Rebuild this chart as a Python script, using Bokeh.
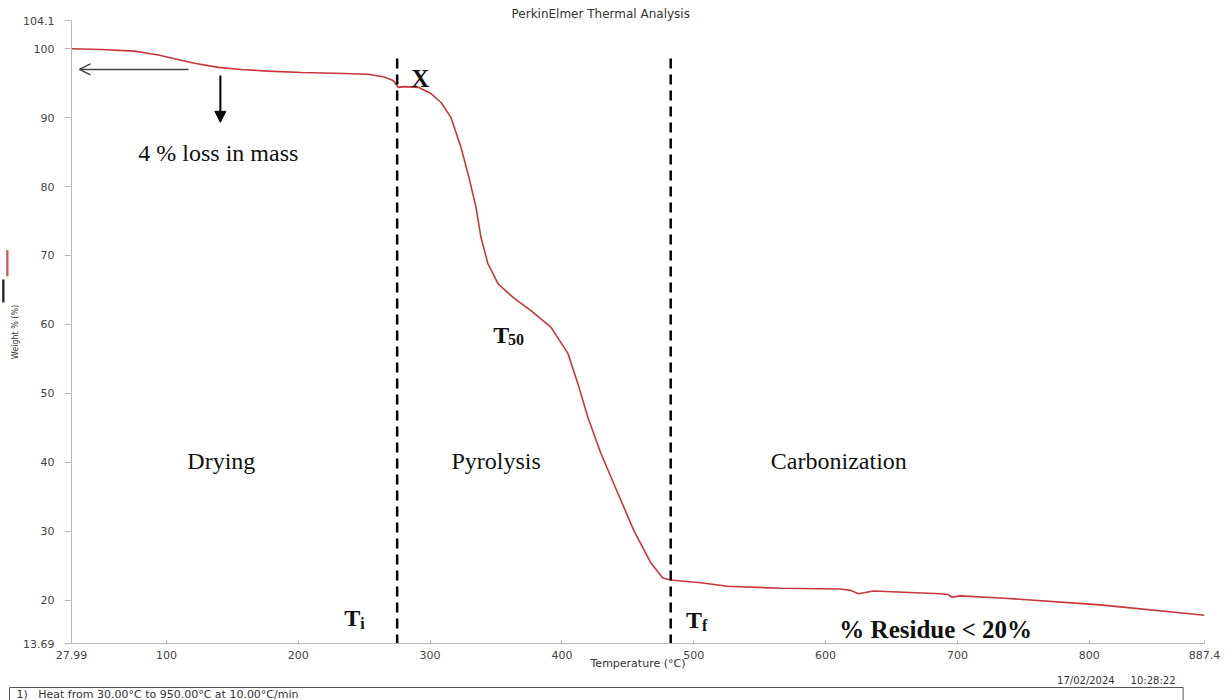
from bokeh.plotting import figure
from bokeh.models import (Label, Arrow, OpenHead, NormalHead, FixedTicker, Range1d, Title)
from bokeh.embed import file_html
from bokeh.resources import INLINE

# ---------------- data ----------------
temperature_c = [28.0, 50.7, 75.7, 93.9, 106.1, 121.2, 139.4, 156.8, 177.3, 202.3,
                 227.3, 253.1, 265.2, 272.0, 275.8, 280.4, 291.0, 300.7, 308.3, 315.9,
                 323.4, 329.5, 334.8, 338.6, 343.9, 351.5, 363.6, 376.5, 391.6, 404.5,
                 412.1, 419.7, 429.5, 442.4, 454.5, 467.4, 476.5, 482.5, 505.3, 525.7,
                 565.9, 611.3, 619.0, 625.0, 636.3, 687.0, 693.0, 696.0, 702.0, 732.5,
                 808.3, 887.4]
weight_pct = [100.0, 99.9, 99.65, 99.1, 98.55, 97.9, 97.3, 97.0, 96.75, 96.55,
              96.45, 96.3, 95.9, 95.4, 94.4, 94.5, 94.4, 93.5, 92.2, 90.0,
              85.7, 81.3, 77.0, 72.6, 68.8, 65.9, 63.8, 62.0, 59.6, 55.8,
              51.4, 46.5, 41.3, 35.5, 30.1, 25.4, 23.2, 22.9, 22.5, 22.0,
              21.7, 21.6, 21.4, 20.9, 21.3, 20.9, 20.8, 20.4, 20.6, 20.3,
              19.3, 17.8]
stage_bounds_c = [275.0, 482.5]          # Ti and Tf
stage_names = ["Drying", "Pyrolysis", "Carbonization"]

x_ticks = [27.99, 100, 200, 300, 400, 500, 600, 700, 800, 887.4]
x_tick_labels = ["27.99", "100", "200", "300", "400", "500", "600", "700", "800", "887.4"]
y_ticks = [13.69, 20, 30, 40, 50, 60, 70, 80, 90, 100, 104.1]
y_tick_labels = ["13.69", "20", "30", "40", "50", "60", "70", "80", "90", "100", "104.1"]

X_MIN, X_MAX = 27.99, 887.4
Y_MIN, Y_MAX = 13.69, 104.1

# ---------------- geometry (page pixels; the template has no body margin) ----
W, H = 1229, 700
FL, FR, FT, FB = 70, 1204, 20, 644      # frame edges


def xd(px):
    return X_MIN + (px - FL) * (X_MAX - X_MIN) / (FR - FL)


def yd(py):
    return Y_MAX - (py - FT) * (Y_MAX - Y_MIN) / (FB - FT)


SERIF = "Liberation Serif"
SANS = "DejaVu Sans"
NB = "\u00a0"

p = figure(width=W, height=H,
           x_range=Range1d(X_MIN, X_MAX), y_range=Range1d(Y_MIN, Y_MAX),
           output_backend="svg", toolbar_location=None,
           min_border_left=FL, min_border_right=W - FR,
           min_border_top=FT, min_border_bottom=H - FB)
p.outline_line_color = None
p.xgrid.visible = False
p.ygrid.visible = False
p.background_fill_color = "white"
p.border_fill_color = "white"

# title (above panel)
p.title.text = "PerkinElmer Thermal Analysis"
p.title.align = "left"
p.title.offset = 510 - FL
p.title.standoff = 0
p.title.text_font = SANS
p.title.text_font_size = "12px"
p.title.text_font_style = "normal"
p.title.text_color = "#333333"

AX = "#b8b8b8"
for ax in (p.xaxis[0], p.yaxis[0]):
    ax.axis_line_color = AX
    ax.major_tick_line_color = AX
    ax.minor_tick_line_color = None
    ax.major_label_text_font = SANS
    ax.major_label_text_font_size = "11px"
    ax.major_label_text_color = "#444444"
    ax.axis_label_text_font = SANS
    ax.axis_label_text_font_style = "normal"
    ax.axis_label_text_color = "#333333"

p.xaxis.ticker = FixedTicker(ticks=x_ticks)
p.xaxis.major_label_overrides = {t: l for t, l in zip(x_ticks, x_tick_labels)}
p.xaxis.major_tick_in = 3
p.xaxis.major_tick_out = 0
p.xaxis.major_label_standoff = 7
p.xaxis.axis_label = "Temperature (°C)"
p.xaxis.axis_label_text_font_size = "11px"
p.xaxis.axis_label_standoff = -5

p.yaxis.ticker = FixedTicker(ticks=y_ticks)
p.yaxis.major_label_overrides = {t: l for t, l in zip(y_ticks, y_tick_labels)}
p.yaxis.major_tick_in = 0
p.yaxis.major_tick_out = 7
p.yaxis.major_label_standoff = 10
p.yaxis.axis_label = "Weight % (%)"
p.yaxis.axis_label_text_font_size = "8px"
p.yaxis.axis_label_standoff = 0

# ---------------- marks ----------------
p.line(temperature_c, weight_pct, line_color="#c8363b", line_width=1.6)

p.segment(x0=stage_bounds_c, y0=[yd(58)] * 2, x1=stage_bounds_c, y1=[Y_MIN] * 2,
          line_color="black", line_width=2.5, line_dash="10 6")

# signal key beside the y label: red (weight) and black swatches
for color, top_px, bot_px in (("#d05a5a", 253, 277), ("#222222", 282, 303)):
    n = round((bot_px - top_px) / (0.318 * 2))
    p.add_layout(Title(text=NB * n, align="left", offset=FB - bot_px, standoff=0,
                       padding=0, text_font=SANS, text_font_size="2px",
                       text_color=color, background_fill_color=color), "left")

# footer (below panel)
p.add_layout(Title(text="17/02/2024" + NB * 5 + "10:28:22", align="right",
                   offset=FR - 1175, standoff=0, text_font=SANS,
                   text_font_size="10px", text_font_style="normal",
                   text_color="#333333"), "below")
p.add_layout(Title(text=NB * 2 + "1)" + NB * 3 + "Heat from 30.00°C to 950.00°C at 10.00°C/min"
                   + NB * 253,
                   align="left", offset=8 - FL, standoff=0, padding=0,
                   text_font=SANS, text_font_size="11px", text_font_style="normal",
                   text_color="#333333", border_line_color="#555555"), "below")

# ---------------- annotations inside the frame ----------------


def lab(text, px, py, size, bold=False, align="left"):
    p.add_layout(Label(text=text, x=xd(px), y=yd(py),
                       text_font=SERIF, text_font_size=f"{size}px",
                       text_font_style="bold" if bold else "normal",
                       text_align=align, text_baseline="alphabetic",
                       text_color="#111111"))


p.add_layout(Arrow(end=OpenHead(size=11, line_color="#444444", line_width=1.5),
                   x_start=xd(187), y_start=yd(69), x_end=xd(78), y_end=yd(69),
                   line_color="#444444", line_width=1.5))
p.add_layout(Arrow(end=NormalHead(size=11, fill_color="black", line_color="black"),
                   x_start=xd(219), y_start=yd(75), x_end=xd(219), y_end=yd(122),
                   line_color="black", line_width=2))

lab("X", 419, 78, 25, bold=True, align="center")
lab("4 % loss in mass", 217, 153, 24, align="center")

stage_px = [220, 495, 838]
for name, cx in zip(stage_names, stage_px):
    lab(name, cx, 461, 24, align="center")

lab("T", 492, 335, 24, bold=True)
lab("50", 507, 340, 16, bold=True)
lab("T", 343, 618, 24, bold=True)
lab("i", 359, 624, 16, bold=True)
lab("T", 685, 620, 24, bold=True)
lab("f", 701, 626, 16, bold=True)
lab("% Residue < 20%", 935, 630, 25, bold=True, align="center")

open("out.html", "w").write(file_html(p, INLINE))
